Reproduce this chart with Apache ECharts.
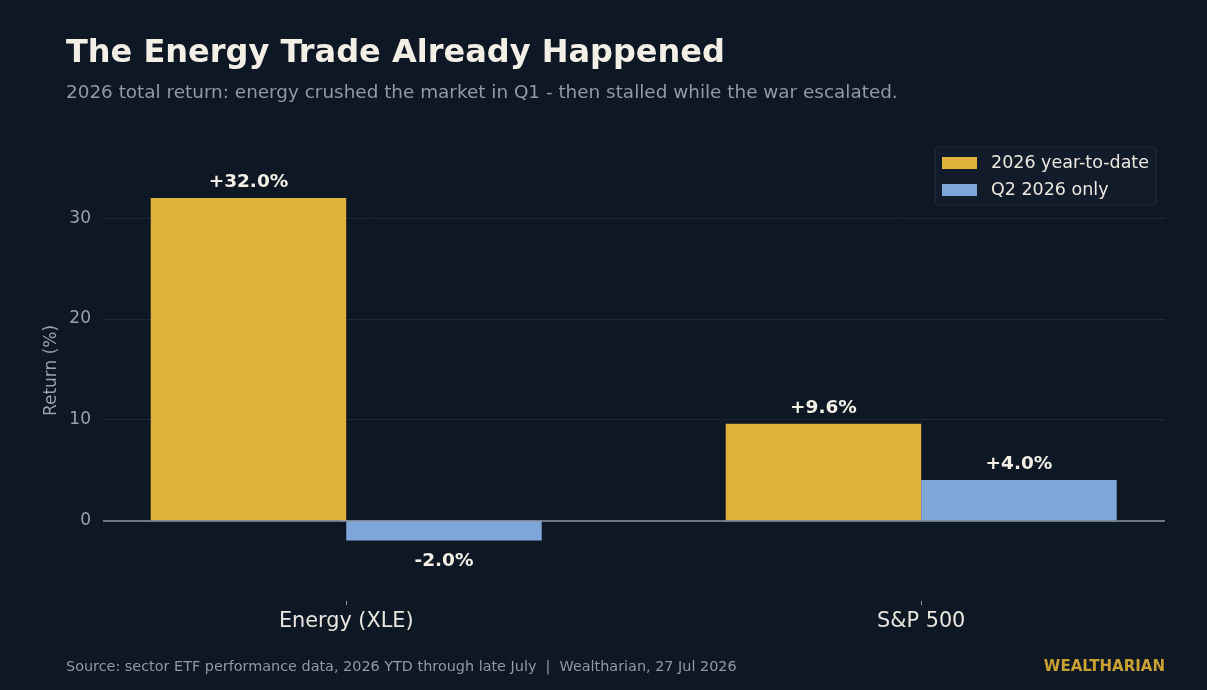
<!DOCTYPE html>
<html>
<head>
<meta charset="utf-8">
<script src="https://cdn.jsdelivr.net/npm/echarts@6/dist/echarts.min.js"></script>
<style>
  html, body { margin: 0; padding: 0; background: #0e1724; }
  #chart { width: 1207px; height: 690px; }
</style>
</head>
<body>
<div id="chart"></div>
<script>
const categories = ['Energy (XLE)', 'S&P 500'];
const seriesNames = ['2026 year-to-date', 'Q2 2026 only'];
const ytdValues = [32.0, 9.6];
const q2Values = [-2.0, 4.0];
const yTickValues = [0, 10, 20, 30];
const gridValues = [10, 20, 30];

const FONT = 'DejaVu Sans';
const chart = echarts.init(document.getElementById('chart'), null, { renderer: 'canvas' });

function fmt(v) { return (v >= 0 ? '+' : '') + v.toFixed(1) + '%'; }
function buildData(vals) {
  return vals.map((v, i) => ({
    value: [i, v],
    label: {
      show: true,
      position: v >= 0 ? 'top' : 'bottom',
      distance: v >= 0 ? 6 : 11,
      formatter: fmt(v),
      color: '#f3efe6',
      fontFamily: FONT,
      fontWeight: 'bold',
      fontSize: 18.5
    }
  }));
}

const option = {
  backgroundColor: '#0e1724',
  animation: false,
  textStyle: { fontFamily: FONT },
  title: [
    {
      text: 'The Energy Trade Already Happened',
      left: 66, top: 38, padding: 0,
      textStyle: { color: '#f3efe6', fontSize: 32, fontWeight: 'bold', fontFamily: FONT }
    },
    {
      text: '2026 total return: energy crushed the market in Q1 - then stalled while the war escalated.',
      left: 66, top: 84, padding: 0,
      textStyle: { color: '#8e9aa8', fontSize: 18.4, fontWeight: 'normal', fontFamily: FONT }
    },
    {
      text: 'Source: sector ETF performance data, 2026 YTD through late July  |  Wealtharian, 27 Jul 2026',
      left: 66, top: 660, padding: 0,
      textStyle: { color: '#8e9aa8', fontSize: 14.4, fontWeight: 'normal', fontFamily: FONT }
    },
    {
      text: 'WEALTHARIAN',
      right: 42, top: 660, padding: 0,
      textStyle: { color: '#c9a032', fontSize: 15, fontWeight: 'bold', fontFamily: FONT }
    }
  ],
  legend: {
    data: seriesNames,
    orient: 'vertical',
    right: 51, top: 147,
    padding: [7, 7, 6, 7],
    itemWidth: 35, itemHeight: 12, itemGap: 9,
    icon: 'rect',
    backgroundColor: '#111b29',
    borderColor: '#222d3c',
    borderWidth: 1,
    borderRadius: 4,
    textStyle: { color: '#ece8df', fontSize: 17.5, fontFamily: FONT, padding: [0, 0, 0, 9] }
  },
  grid: { left: 103, right: 42, top: 140, bottom: 89 },
  xAxis: {
    type: 'value',
    min: -0.423, max: 1.424,
    splitLine: { show: false },
    axisLine: { show: false, onZero: false },
    axisTick: { show: true, customValues: [0, 1], length: 4, lineStyle: { color: '#8896a6' } },
    axisLabel: {
      customValues: [0, 1],
      formatter: v => categories[Math.round(v)] || '',
      color: '#e8e6df', fontSize: 20.8, fontFamily: FONT, margin: 10
    }
  },
  yAxis: {
    type: 'value',
    min: -8, max: 37.76,
    name: 'Return (%)',
    nameLocation: 'middle',
    nameGap: 43,
    nameMoveOverlap: false,
    nameTextStyle: { color: '#96a2b0', fontSize: 17, fontFamily: FONT },
    splitLine: { show: false },
    axisLine: { show: false },
    axisTick: { show: true, customValues: yTickValues, length: 5, lineStyle: { color: '#96a2b0' } },
    axisLabel: {
      customValues: yTickValues,
      color: '#96a2b0', fontSize: 17, fontFamily: FONT, margin: 12,
      padding: [4, 0, 0, 0]
    }
  },
  series: [
    {
      name: seriesNames[0],
      type: 'bar',
      barWidth: 195.5,
      barGap: '0%',
      itemStyle: { color: '#dfb23c' },
      data: buildData(ytdValues),
      markLine: {
        silent: true,
        symbol: 'none',
        label: { show: false },
        z: 1,
        data: gridValues.map(v => ({ yAxis: v, lineStyle: { color: '#1d2838', width: 1, type: 'solid' } }))
      }
    },
    {
      name: seriesNames[1],
      type: 'bar',
      barWidth: 195.5,
      barGap: '0%',
      itemStyle: { color: '#7fa6d8' },
      data: buildData(q2Values),
      markLine: {
        silent: true,
        symbol: 'none',
        label: { show: false },
        z: 10,
        data: [{ yAxis: 0, lineStyle: { color: '#8a98a8', width: 1.6, type: 'solid' } }]
      }
    }
  ]
};
chart.setOption(option);
</script>
</body>
</html>
